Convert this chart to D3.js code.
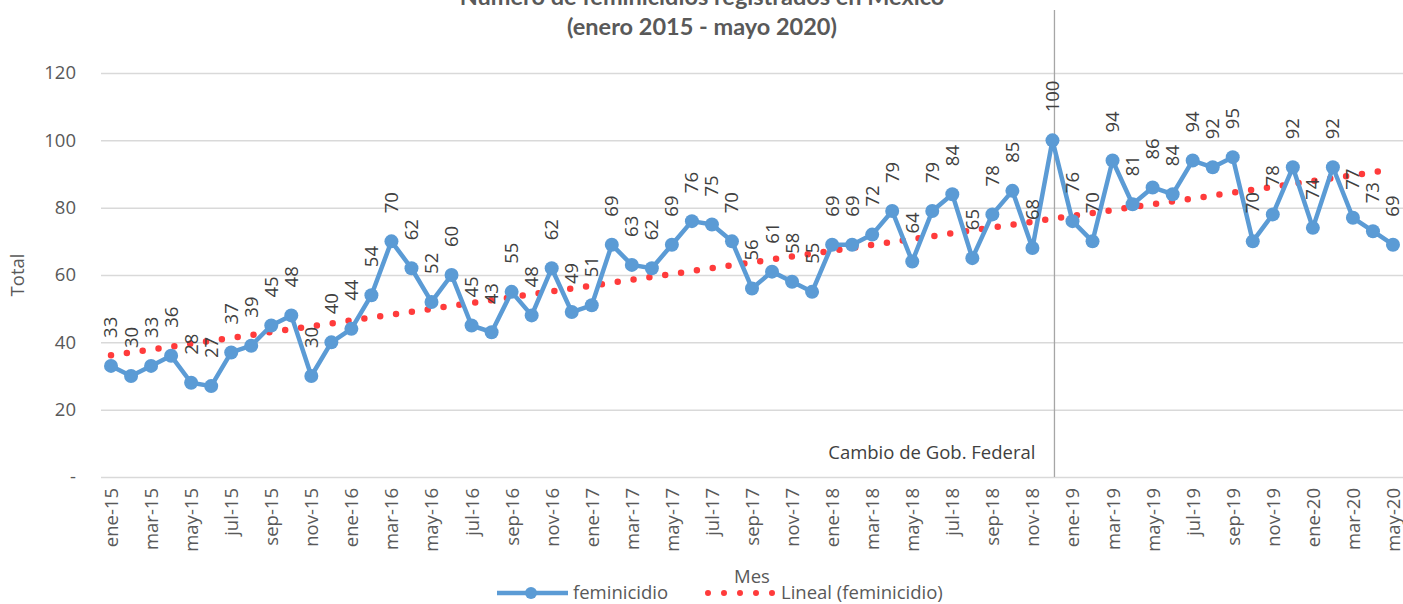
<!DOCTYPE html>
<meta charset="utf-8">
<style>
    body {
        margin: 0;
        background-color: #ffffff;
        overflow: hidden;
    }

    text {
        font-family: "Open Sans", sans-serif;
    }

    .grid line {
        stroke: #d9d9d9;
        stroke-width: 1.5px;
    }

    .grid path {
        display: none;
    }

    .axis text {
        fill: #595959;
    }

    .title {
        font-family: Lato, "Open Sans", sans-serif;
        font-weight: bold;
        fill: #595959;
    }

    .legend text {
        fill: #595959;
    }
</style>

<body>
    <svg width="1403" height="604"></svg>
    <script src="https://d3js.org/d3.v7.min.js"></script>
    <script>
        // meses de ene-2015 a may-2020
        var meses = ["ene", "feb", "mar", "abr", "may", "jun", "jul", "ago", "sep", "oct", "nov", "dic"];
        var years = ["15", "16", "17", "18", "19", "20"];

        var feminicidio = [
            33, 30, 33, 36, 28, 27, 37, 39, 45, 48, 30, 40,
            44, 54, 70, 62, 52, 60, 45, 43, 55, 48, 62, 49,
            51, 69, 63, 62, 69, 76, 75, 70, 56, 61, 58, 55,
            69, 69, 72, 79, 64, 79, 84, 65, 78, 85, 68, 100,
            76, 70, 94, 81, 86, 84, 94, 92, 95, 70, 78, 92,
            74, 92, 77, 73, 69
        ];

        var yTicks = [0, 20, 40, 60, 80, 100, 120];
        var cambioMes = "dic-18";

        var labels = [];
        years.forEach(function(y) {
            meses.forEach(function(m) {
                if (labels.length < feminicidio.length) labels.push(m + "-" + y);
            });
        });

        var data = feminicidio.map(function(v, i) {
            return { mes: labels[i], value: v, i: i };
        });

        var svg = d3.select("svg"),
            margin = { top: 73, right: 0, bottom: 127, left: 101 },
            W = +svg.attr("width"),
            H = +svg.attr("height");

        var fs = "18.5px";

        var x = d3.scalePoint()
            .domain(labels)
            .range([margin.left, W - margin.right])
            .padding(0.5);

        var y = d3.scaleLinear()
            .domain([0, 120])
            .range([H - margin.bottom, margin.top]);

        // gridlines
        svg.append("g")
            .attr("class", "grid")
            .attr("transform", "translate(" + margin.left + ",0)")
            .call(d3.axisLeft(y).tickValues(yTicks).tickSize(-(W - margin.left - margin.right)).tickFormat(""));

        // y axis labels
        var yAxis = svg.append("g")
            .attr("class", "axis")
            .attr("transform", "translate(" + (margin.left - 25) + ",0)")
            .call(d3.axisLeft(y).tickValues(yTicks).tickSize(0).tickFormat(function(d) {
                return d === 0 ? "-" : d;
            }));
        yAxis.select(".domain").remove();
        yAxis.selectAll("text").style("font-size", fs).attr("x", 0);

        // x axis labels (cada dos meses)
        var xAxis = svg.append("g")
            .attr("class", "axis")
            .attr("transform", "translate(0," + y(0) + ")")
            .call(d3.axisBottom(x).tickSize(0).tickValues(labels.filter(function(d, i) {
                return i % 2 === 0;
            })));
        xAxis.select(".domain").remove();
        xAxis.selectAll("text")
            .style("font-size", fs)
            .attr("text-anchor", "end")
            .attr("transform", "rotate(-90)")
            .attr("x", -11)
            .attr("y", 0)
            .attr("dy", "0.35em");

        // cambio de gobierno
        svg.append("line")
            .attr("x1", x(cambioMes) + 2)
            .attr("x2", x(cambioMes) + 2)
            .attr("y1", 10)
            .attr("y2", y(0))
            .attr("stroke", "#a6a6a6")
            .attr("stroke-width", 1.3);

        svg.append("text")
            .attr("x", x(cambioMes) - 17)
            .attr("y", y(7.3))
            .attr("dy", "0.35em")
            .attr("text-anchor", "end")
            .style("font-size", fs)
            .attr("fill", "#404040")
            .text("Cambio de Gob. Federal");

        // linea de tendencia (regresion lineal)
        var n = data.length;
        var mx = d3.mean(data, function(d) { return d.i; });
        var my = d3.mean(data, function(d) { return d.value; });
        var slope = d3.sum(data, function(d) { return (d.i - mx) * (d.value - my); }) /
            d3.sum(data, function(d) { return (d.i - mx) * (d.i - mx); });
        var icpt = my - slope * mx;

        var trend = [data[0], data[n - 1]].map(function(d) {
            return { mes: d.mes, value: icpt + slope * d.i };
        });

        var line = d3.line()
            .x(function(d) { return x(d.mes); })
            .y(function(d) { return y(d.value); });

        svg.append("path")
            .datum(trend)
            .attr("d", line)
            .attr("fill", "none")
            .attr("stroke", "#ff3b3b")
            .attr("stroke-width", 6.5)
            .attr("stroke-linecap", "round")
            .attr("stroke-dasharray", "0 16");

        // serie
        svg.append("path")
            .datum(data)
            .attr("d", line)
            .attr("fill", "none")
            .attr("stroke", "#5b9bd5")
            .attr("stroke-width", 4.5)
            .attr("stroke-linejoin", "round");

        svg.selectAll(".dot")
            .data(data)
            .enter().append("circle")
            .attr("class", "dot")
            .attr("cx", function(d) { return x(d.mes); })
            .attr("cy", function(d) { return y(d.value); })
            .attr("r", 7)
            .attr("fill", "#5b9bd5");

        svg.selectAll(".lbl")
            .data(data)
            .enter().append("text")
            .attr("class", "lbl")
            .attr("transform", function(d) {
                return "translate(" + x(d.mes) + "," + (y(d.value) - 28) + ") rotate(-90)";
            })
            .attr("dy", "0.35em")
            .style("font-size", fs)
            .attr("fill", "#404040")
            .text(function(d) { return d.value; });

        // titulo
        svg.append("text")
            .attr("class", "title")
            .attr("x", 702)
            .attr("y", 5)
            .attr("text-anchor", "middle")
            .style("font-size", "23.5px")
            .text("Número de feminicidios registrados en México");
        svg.append("text")
            .attr("class", "title")
            .attr("x", 702)
            .attr("y", 35)
            .attr("text-anchor", "middle")
            .style("font-size", "23.5px")
            .text("(enero 2015 - mayo 2020)");

        // titulos de ejes
        svg.append("text")
            .attr("transform", "translate(18," + y(60) + ") rotate(-90)")
            .attr("text-anchor", "middle")
            .attr("dy", "0.35em")
            .style("font-size", fs)
            .attr("fill", "#595959")
            .text("Total");

        svg.append("text")
            .attr("x", 752)
            .attr("y", 577)
            .attr("dy", "0.35em")
            .attr("text-anchor", "middle")
            .style("font-size", fs)
            .attr("fill", "#595959")
            .text("Mes");

        // leyenda
        var lg = svg.append("g").attr("class", "legend");
        lg.append("line")
            .attr("x1", 497).attr("x2", 568)
            .attr("y1", 593).attr("y2", 593)
            .attr("stroke", "#5b9bd5")
            .attr("stroke-width", 4.5);
        lg.append("circle")
            .attr("cx", 531).attr("cy", 593).attr("r", 6)
            .attr("fill", "#5b9bd5");
        lg.append("text")
            .attr("x", 573).attr("y", 593)
            .attr("dy", "0.35em")
            .style("font-size", fs)
            .text("feminicidio");
        lg.append("line")
            .attr("x1", 708).attr("x2", 773)
            .attr("y1", 593).attr("y2", 593)
            .attr("stroke", "#ff3b3b")
            .attr("stroke-width", 6)
            .attr("stroke-linecap", "round")
            .attr("stroke-dasharray", "0 16");
        lg.append("text")
            .attr("x", 781).attr("y", 593)
            .attr("dy", "0.35em")
            .style("font-size", fs)
            .text("Lineal (feminicidio)");
    </script>
</body>
